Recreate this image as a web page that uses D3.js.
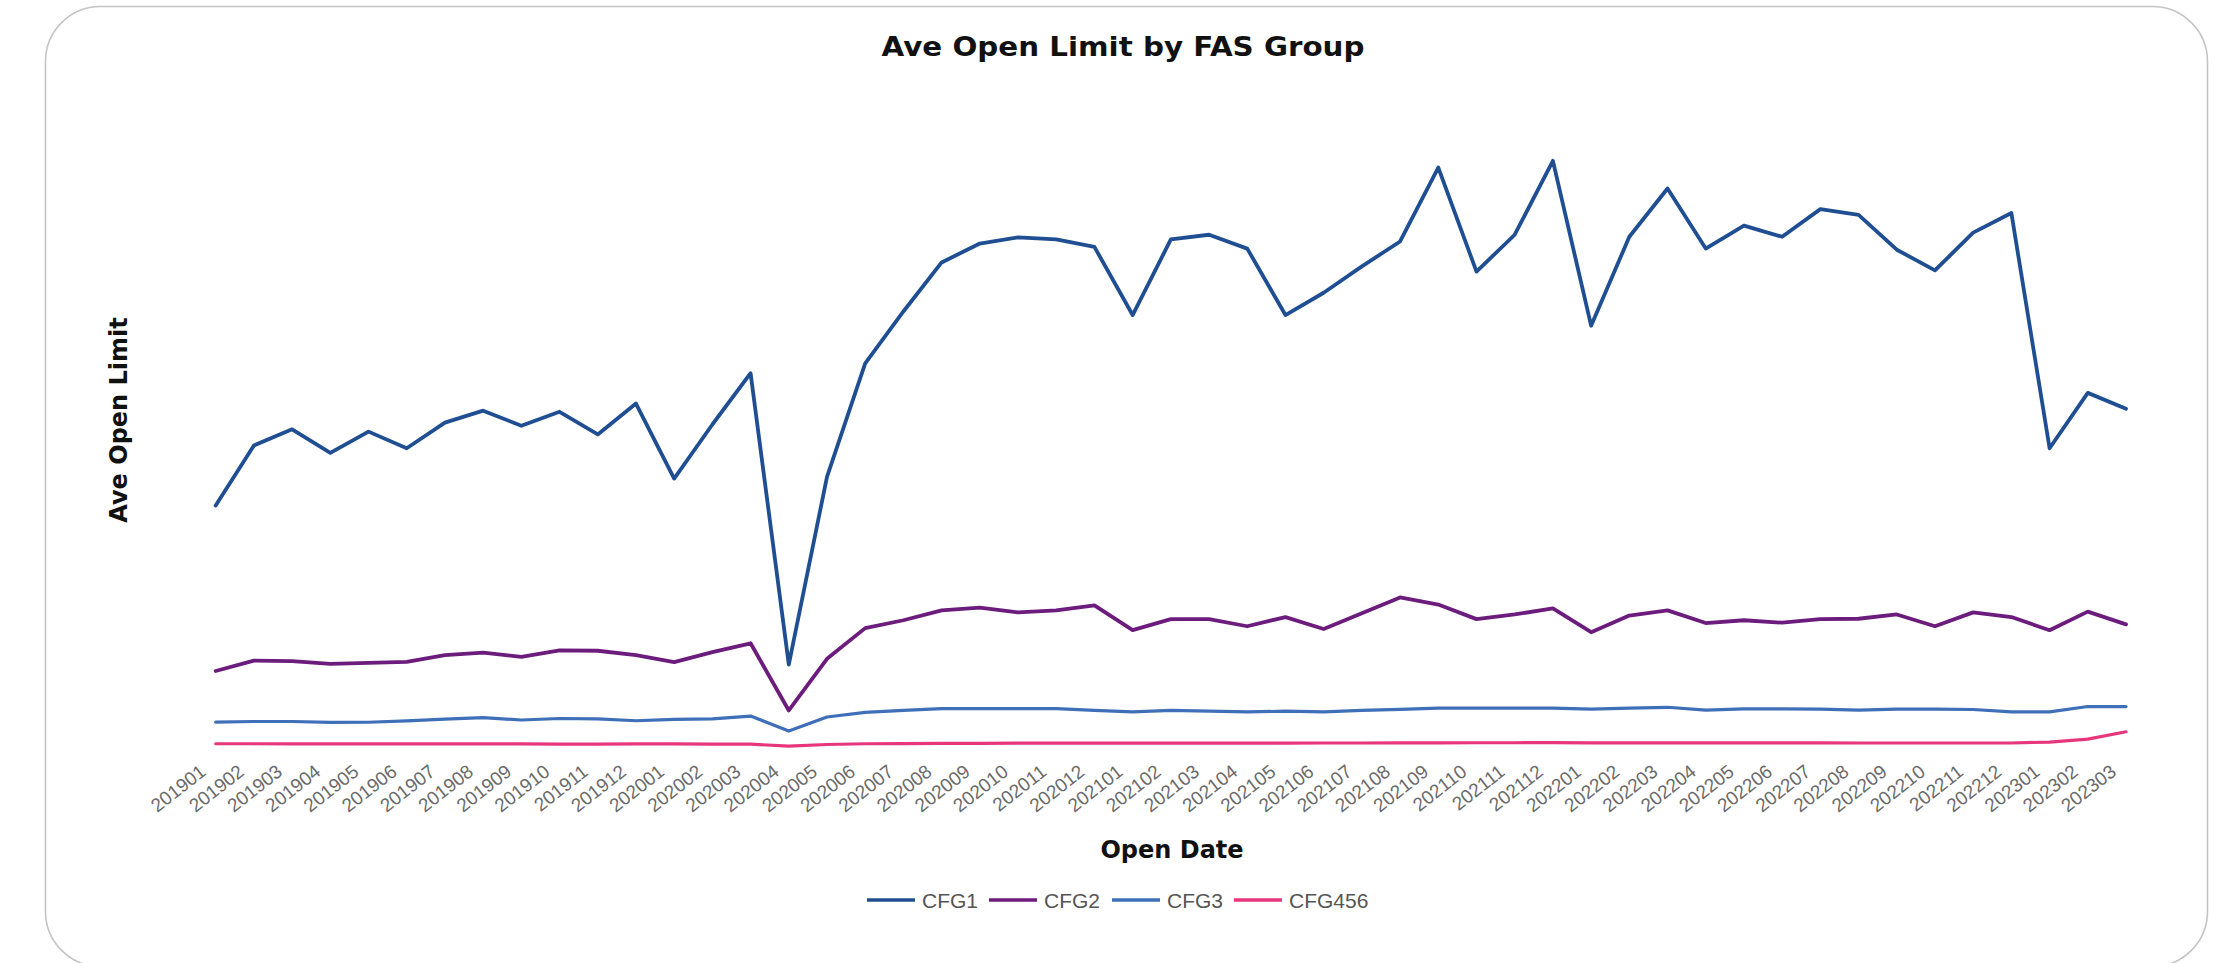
<!DOCTYPE html>
<html>
<head>
<meta charset="utf-8">
<script src="https://cdn.jsdelivr.net/npm/d3@7"></script>
<style>
  html, body { margin: 0; padding: 0; background: #ffffff; }
  #div_chart { width: 2234px; height: 963px; }
</style>
</head>
<body>
<div id="div_chart"></div>
<script>
// svg area, same size as the window
const svg_width = 2234;
const svg_height = 963;

// x categories (open month)
const openDates = [
  "201901","201902","201903","201904","201905","201906","201907","201908","201909","201910","201911","201912",
  "202001","202002","202003","202004","202005","202006","202007","202008","202009","202010","202011","202012",
  "202101","202102","202103","202104","202105","202106","202107","202108","202109","202110","202111","202112",
  "202201","202202","202203","202204","202205","202206","202207","202208","202209","202210","202211","202212",
  "202301","202302","202303"
];

// average open limit per FAS group (no axis values shown)
const cfg1 = [
  13330,16540,17400,16140,17280,16390,17760,18400,17590,18340,17130,18780,
  14770,17660,20400,4830,14860,20930,23700,26320,27330,27660,27550,27150,
  23510,27550,27800,27060,23510,24700,26110,27440,31390,25830,27800,31750,
  22940,27690,30270,27060,28290,27690,29170,28860,27000,25900,27910,28960,
  16390,19350,18500
];
const cfg2 = [
  4490,5040,5020,4870,4920,4980,5340,5470,5240,5590,5570,5340,
  4960,5500,5970,2380,5140,6780,7200,7730,7880,7620,7730,8000,
  6670,7260,7260,6880,7370,6730,7580,8420,8040,7260,7510,7830,
  6560,7450,7730,7050,7200,7070,7260,7280,7510,6880,7620,7370,
  6670,7660,6980
];
const cfg3 = [
  1760,1790,1790,1740,1750,1820,1920,2000,1870,1950,1930,1830,
  1900,1930,2080,1280,2030,2280,2380,2480,2480,2480,2480,2380,
  2300,2380,2340,2300,2340,2300,2380,2440,2510,2510,2510,2510,
  2450,2510,2550,2400,2470,2470,2450,2400,2450,2450,2430,2300,
  2300,2590,2590
];
const cfg456 = [
  600,600,595,595,590,590,595,595,590,585,585,590,
  590,585,580,470,560,600,610,620,625,630,630,630,
  630,630,635,635,635,640,640,645,650,655,655,660,
  650,650,650,645,645,645,645,640,640,640,640,640,
  690,850,1240
];

const seriesNames = ["CFG1", "CFG2", "CFG3", "CFG456"];
const seriesValues = [cfg1, cfg2, cfg3, cfg456];
const seriesColors = ["#1f4f92", "#6c1c7c", "#3f6fb8", "#e8367c"];
const seriesWidths = [3.8, 3.8, 3.2, 3.2];

let svg = d3.select("#div_chart")
  .append("svg")
    .attr("width", svg_width)
    .attr("height", svg_height)

// card outline
svg.append("rect")
    .attr("x", 45.5)
    .attr("y", 6.5)
    .attr("width", 2162)
    .attr("height", 960)
    .attr("rx", 55)
    .attr("ry", 55)
    .attr("fill", "#ffffff")
    .attr("stroke", "#c4c4c4")
    .attr("stroke-width", 1.6)

// scales
const x = d3.scalePoint()
    .domain(openDates)
    .range([215.7, 2126]);

const y = d3.scaleLinear()
    .domain([0, 35000])
    .range([755, 100]);

// title
svg.append("text")
    .attr("x", 1123)
    .attr("y", 56)
    .attr("text-anchor", "middle")
    .attr("font-family", "DejaVu Sans, sans-serif")
    .attr("font-weight", "bold")
    .attr("font-size", 26)
    .attr("textLength", 483)
    .attr("lengthAdjust", "spacingAndGlyphs")
    .attr("fill", "#111111")
    .text("Ave Open Limit by FAS Group")

// y axis title
svg.append("text")
    .attr("transform", "translate(127,420) rotate(-90)")
    .attr("text-anchor", "middle")
    .attr("font-family", "DejaVu Sans, sans-serif")
    .attr("font-weight", "bold")
    .attr("font-size", 24)
    .attr("fill", "#111111")
    .text("Ave Open Limit")

// x axis: only the rotated labels, no line and no ticks
const xAxis = svg.append("g")
    .attr("transform", "translate(0,774)")
    .call(d3.axisBottom(x).tickSize(0).tickPadding(0));

xAxis.select(".domain").remove();
xAxis.selectAll("text")
    .attr("transform", "translate(-9,0) rotate(-38)")
    .attr("y", 0)
    .attr("dy", 0)
    .attr("text-anchor", "end")
    .attr("font-family", "Liberation Sans, Arial, sans-serif")
    .attr("font-size", 19)
    .attr("fill", "#6a6a6a");

// x axis title
svg.append("text")
    .attr("x", 1172)
    .attr("y", 858)
    .attr("text-anchor", "middle")
    .attr("font-family", "DejaVu Sans, sans-serif")
    .attr("font-weight", "bold")
    .attr("font-size", 24)
    .attr("fill", "#111111")
    .text("Open Date")

// lines
const line = d3.line()
    .x((d, i) => x(openDates[i]))
    .y(d => y(d));

for (let i = seriesValues.length - 1; i >= 0; i--) {
    svg.append("path")
        .datum(seriesValues[i])
        .attr("fill", "none")
        .attr("stroke", seriesColors[i])
        .attr("stroke-width", seriesWidths[i])
        .attr("stroke-linejoin", "round")
        .attr("stroke-linecap", "round")
        .attr("d", line)
}

// legend
const legendX = [867, 989, 1112, 1234];
const legendY = 900;

for (let i = 0; i < seriesNames.length; i++) {
    svg.append("line")
        .attr("x1", legendX[i])
        .attr("x2", legendX[i] + 48)
        .attr("y1", legendY)
        .attr("y2", legendY)
        .attr("stroke", seriesColors[i])
        .attr("stroke-width", 3.5)
    svg.append("text")
        .attr("x", legendX[i] + 55)
        .attr("y", legendY + 7.5)
        .attr("font-family", "Liberation Sans, Arial, sans-serif")
        .attr("font-size", 21)
        .attr("fill", "#555555")
        .text(seriesNames[i])
}
</script>
</body>
</html>
